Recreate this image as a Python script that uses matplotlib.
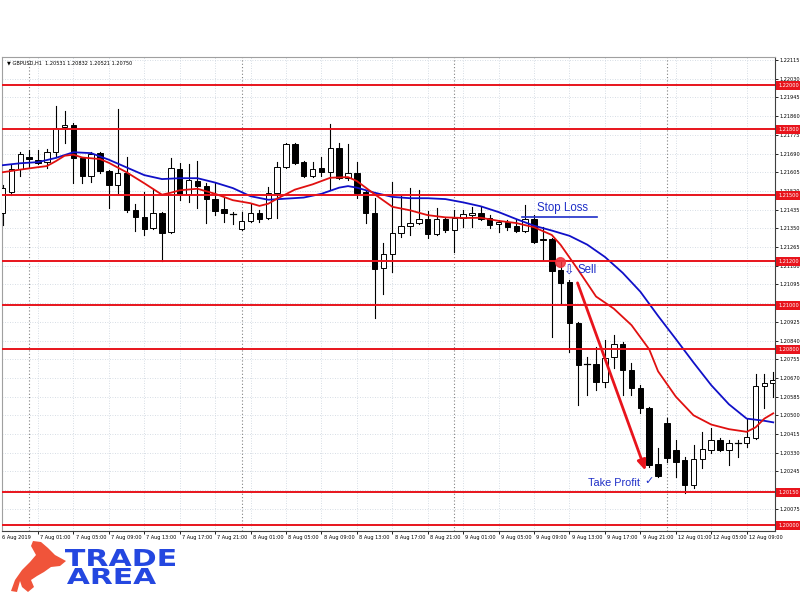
import matplotlib
matplotlib.use("Agg")
import matplotlib.pyplot as plt
from matplotlib.patches import Rectangle, Polygon, PathPatch
from matplotlib.textpath import TextPath
from matplotlib.font_manager import FontProperties
from matplotlib.transforms import blended_transform_factory, Affine2D

# bar index 0 = 7 Aug 01:00 (H1 bars, weekend skipped)
bar_idx = list(range(-4, 84))
opens = [1.21419, 1.21514, 1.21619, 1.21674, 1.21660, 1.21651, 1.21696, 1.21810, 1.21819, 1.21669,
         1.21587, 1.21692, 1.21610, 1.21546, 1.21601, 1.21432, 1.21401, 1.21351, 1.21419, 1.21332,
         1.21619, 1.21505, 1.21564, 1.21542, 1.21483, 1.21437, 1.21414, 1.21346, 1.21382, 1.21419,
         1.21396, 1.21510, 1.21628, 1.21733, 1.21651, 1.21587, 1.21624, 1.21605, 1.21715, 1.21578,
         1.21601, 1.21514, 1.21419, 1.21169, 1.21232, 1.21328, 1.21360, 1.21373, 1.21392, 1.21323,
         1.21392, 1.21341, 1.21396, 1.21410, 1.21419, 1.21396, 1.21369, 1.21378, 1.21360, 1.21337,
         1.21392, 1.21301, 1.21301, 1.21159, 1.21105, 1.20918, 1.20732, 1.20732, 1.20650, 1.20764,
         1.20823, 1.20704, 1.20623, 1.20532, 1.20277, 1.20463, 1.20340, 1.20295, 1.20181, 1.20300,
         1.20340, 1.20386, 1.20340, 1.20372, 1.20372, 1.20395, 1.20632, 1.20645]
highs = [1.21546, 1.21637, 1.21696, 1.21706, 1.21706, 1.21710, 1.21906, 1.21883, 1.21828, 1.21674,
         1.21696, 1.21696, 1.21615, 1.21892, 1.21674, 1.21460, 1.21514, 1.21528, 1.21423, 1.21669,
         1.21646, 1.21642, 1.21655, 1.21555, 1.21555, 1.21492, 1.21423, 1.21423, 1.21460, 1.21432,
         1.21537, 1.21651, 1.21737, 1.21737, 1.21655, 1.21651, 1.21674, 1.21824, 1.21737, 1.21733,
         1.21651, 1.21519, 1.21487, 1.21282, 1.21560, 1.21496, 1.21533, 1.21523, 1.21428, 1.21442,
         1.21396, 1.21432, 1.21432, 1.21446, 1.21446, 1.21410, 1.21387, 1.21387, 1.21387, 1.21455,
         1.21410, 1.21355, 1.21305, 1.21196, 1.21114, 1.20923, 1.20764, 1.20809, 1.20841, 1.20864,
         1.20832, 1.20736, 1.20636, 1.20536, 1.20350, 1.20486, 1.20386, 1.20309, 1.20363, 1.20422,
         1.20441, 1.20395, 1.20386, 1.20386, 1.20482, 1.20686, 1.20686, 1.20695]
lows = [1.21364, 1.21501, 1.21587, 1.21624, 1.21642, 1.21624, 1.21674, 1.21737, 1.21555, 1.21555,
        1.21560, 1.21601, 1.21442, 1.21510, 1.21423, 1.21337, 1.21319, 1.21346, 1.21200, 1.21328,
        1.21478, 1.21469, 1.21442, 1.21373, 1.21410, 1.21378, 1.21369, 1.21342, 1.21380, 1.21378,
        1.21392, 1.21396, 1.21624, 1.21642, 1.21583, 1.21583, 1.21587, 1.21528, 1.21574, 1.21569,
        1.21487, 1.21373, 1.20941, 1.21050, 1.21150, 1.21310, 1.21319, 1.21369, 1.21305, 1.21319,
        1.21332, 1.21241, 1.21355, 1.21355, 1.21387, 1.21351, 1.21332, 1.21341, 1.21332, 1.21332,
        1.21282, 1.21205, 1.20855, 1.21009, 1.20786, 1.20545, 1.20591, 1.20613, 1.20627, 1.20714,
        1.20591, 1.20591, 1.20509, 1.20263, 1.20218, 1.20286, 1.20218, 1.20145, 1.20168, 1.20259,
        1.20327, 1.20336, 1.20272, 1.20309, 1.20354, 1.20390, 1.20532, 1.20582]
closes = [1.21533, 1.21619, 1.21687, 1.21665, 1.21646, 1.21696, 1.21806, 1.21819, 1.21669, 1.21587,
          1.21687, 1.21610, 1.21546, 1.21601, 1.21432, 1.21401, 1.21346, 1.21419, 1.21328, 1.21624,
          1.21505, 1.21569, 1.21542, 1.21483, 1.21428, 1.21419, 1.21416, 1.21382, 1.21419, 1.21392,
          1.21510, 1.21628, 1.21733, 1.21646, 1.21587, 1.21619, 1.21605, 1.21715, 1.21578, 1.21601,
          1.21510, 1.21419, 1.21164, 1.21232, 1.21328, 1.21360, 1.21373, 1.21392, 1.21323, 1.21392,
          1.21341, 1.21396, 1.21414, 1.21419, 1.21392, 1.21364, 1.21378, 1.21355, 1.21337, 1.21392,
          1.21287, 1.21296, 1.21155, 1.21100, 1.20918, 1.20727, 1.20730, 1.20650, 1.20759, 1.20823,
          1.20704, 1.20623, 1.20532, 1.20272, 1.20222, 1.20304, 1.20286, 1.20181, 1.20300, 1.20345,
          1.20386, 1.20340, 1.20372, 1.20370, 1.20400, 1.20632, 1.20645, 1.20659]

# moving averages
slow_idx = [-4, -2, 0, 2, 4, 6, 8, 10, 12, 14, 16, 18, 20, 22, 24, 26, 28, 30, 32, 34, 35, 36, 38,
            40, 42, 44, 46, 48, 50, 52, 54, 56, 58, 60, 62, 64, 66, 68, 70, 72, 74, 76, 78, 80, 82, 83]
slow_ma = [1.21637, 1.21646, 1.21651, 1.21670, 1.21696, 1.21692, 1.21662, 1.21627, 1.21592, 1.21574,
           1.21578, 1.21578, 1.21558, 1.21533, 1.21496, 1.21480, 1.21485, 1.21490, 1.21507, 1.21535,
           1.21542, 1.21535, 1.21512, 1.21493, 1.21487, 1.21487, 1.21483, 1.21468, 1.21450, 1.21424,
           1.21392, 1.21362, 1.21340, 1.21316, 1.21276, 1.21220, 1.21148, 1.21062, 1.20952, 1.20847,
           1.20740, 1.20637, 1.20550, 1.20485, 1.20475, 1.20468]
fast_idx = [-4, -2, 0, 1, 2, 3, 4, 5, 7, 8, 10, 12, 14, 15, 16, 18, 20, 22, 24, 25, 26, 27, 29, 31,
            33, 35, 36, 38, 40, 42, 44, 46, 48, 50, 52, 54, 56, 58, 59, 61, 62, 63, 65, 67, 69, 70,
            72, 74, 76, 78, 80, 81, 82, 83]
fast_ma = [1.21605, 1.21617, 1.21628, 1.21633, 1.21655, 1.21680, 1.21685, 1.21672, 1.21665, 1.21648,
           1.21605, 1.21555, 1.21503, 1.21512, 1.21523, 1.21530, 1.21507, 1.21478, 1.21464, 1.21452,
           1.21462, 1.21485, 1.21526, 1.21550, 1.21580, 1.21583, 1.21565, 1.21505, 1.21448, 1.21432,
           1.21410, 1.21400, 1.21397, 1.21398, 1.21384, 1.21374, 1.21355, 1.21320, 1.21275, 1.21160,
           1.21100, 1.21040, 1.20985, 1.20910, 1.20800, 1.20700, 1.20585, 1.20500, 1.20458, 1.20437,
           1.20425, 1.20445, 1.20485, 1.20509]

levels = [1.22000, 1.21800, 1.21500, 1.21200, 1.21000, 1.20800, 1.20150, 1.20000]
level_labels = ["1.22000", "1.21800", "1.21500", "1.21200", "1.21000", "1.20800", "1.20150", "1.20000"]

# grid / axis prices (the two hidden under the level boxes keep a grid line but no label)
price_ticks = [1.22115, 1.22030, 1.21945, 1.21860, 1.21775, 1.21690, 1.21605, 1.21520, 1.21435,
               1.21350, 1.21265, 1.21180, 1.21095, 1.21010, 1.20925, 1.20840, 1.20755, 1.20670,
               1.20585, 1.20500, 1.20415, 1.20330, 1.20245, 1.20160, 1.20075]
hidden_ticks = [1.21010, 1.20160]

time_idx = list(range(0, 84, 4))
time_labels = ["7 Aug 01:00", "7 Aug 05:00", "7 Aug 09:00", "7 Aug 13:00", "7 Aug 17:00",
               "7 Aug 21:00", "8 Aug 01:00", "8 Aug 05:00", "8 Aug 09:00", "8 Aug 13:00",
               "8 Aug 17:00", "8 Aug 21:00", "9 Aug 01:00", "9 Aug 05:00", "9 Aug 09:00",
               "9 Aug 13:00", "9 Aug 17:00", "9 Aug 21:00", "12 Aug 01:00", "12 Aug 05:00",
               "12 Aug 09:00"]
day_breaks = [-1, 23, 47, 71]

# trade annotations
stop_loss = 1.21401
entry_bar, entry_price = 58.9, 1.21196
tp_from = (60.8, 1.21114)
tp_to = (68.7, 1.20236)

BLUE = "#1f2fc8"
RED = "#e8141c"

fig = plt.figure(figsize=(8, 6), dpi=100)
ax = fig.add_axes([0.0025, 0.115, 0.96625, 0.79])
ax.set_xlim(-4.06, 83.2)
ax.set_ylim(1.19974, 1.22129)

# grid
for t in time_idx:
    ax.axvline(t, color="#c9d2dc", lw=0.6, ls=(0, (1, 2)), zorder=0)
for p in price_ticks:
    ax.axhline(p, color="#c9d2dc", lw=0.6, ls=(0, (1, 2)), zorder=0)
for d in day_breaks:
    ax.axvline(d, color="#808080", lw=0.8, ls=(0, (1, 2)), zorder=0.5)

# candles
w = 0.62
for i, o, h, l, c in zip(bar_idx, opens, highs, lows, closes):
    ax.plot([i, i], [l, h], color="black", lw=0.8, zorder=2)
    lo, hi = min(o, c), max(o, c)
    if hi - lo < 0.00003:
        ax.plot([i - w / 2, i + w / 2], [o, o], color="black", lw=0.9, zorder=3)
    else:
        face = "white" if c > o else "black"
        ax.add_patch(Rectangle((i - w / 2, lo), w, hi - lo, facecolor=face,
                               edgecolor="black", lw=0.7, zorder=3))

# moving averages
ax.plot(slow_idx, slow_ma, color="#1010c8", lw=1.3, zorder=4)
ax.plot(fast_idx, fast_ma, color="#e01010", lw=1.3, zorder=4)

# horizontal levels
for lv in levels:
    ax.axhline(lv, color=RED, lw=1.4, zorder=5)

# stop loss / sell / take profit
ax.plot([54.6, 63.1], [stop_loss, stop_loss], color=BLUE, lw=1.2, zorder=6)
ax.text(56.3, stop_loss + 0.00012, "Stop Loss", color=BLUE, fontsize=8.3,
        family="Liberation Sans", va="bottom", ha="left", zorder=7)
ax.plot(entry_bar, entry_price, "o", color="#f0303a", ms=7, alpha=0.85, zorder=7)
ax.text(59.4, 1.21155, "\u21e9", color=BLUE, fontsize=9, family="DejaVu Sans",
        va="center", ha="left", zorder=7)
ax.text(60.9, 1.21160, "Sell", color=BLUE, fontsize=8.3, family="Liberation Sans",
        va="center", ha="left", zorder=7)
ax.annotate("", xy=tp_to, xytext=tp_from,
            arrowprops=dict(arrowstyle="-|>,head_length=0.6,head_width=0.25",
                            color=RED, lw=2.0), zorder=7)
ax.text(62.1, 1.20190, "Take Profit", color=BLUE, fontsize=7.8,
        family="Liberation Sans", va="center", ha="left", zorder=7)
ax.text(68.5, 1.20200, "\u2713", color=BLUE, fontsize=8, family="DejaVu Sans",
        va="center", ha="left", zorder=7)

# axes styling
for s in ["top", "left"]:
    ax.spines[s].set_color("#a0a0a0")
    ax.spines[s].set_linewidth(0.8)
ax.spines["right"].set_color("#404040")
ax.spines["bottom"].set_color("#404040")
ax.yaxis.tick_right()
ax.set_yticks(price_ticks)
ax.set_yticklabels(["" if p in hidden_ticks else f"{p:.5f}" for p in price_ticks], fontsize=3.6)
ax.tick_params(axis="y", length=2, width=0.6, pad=1.5)
ax.set_xticks(time_idx)
ax.set_xticklabels([])
ax.tick_params(axis="x", length=2, width=0.6)
for t, lab in zip(time_idx, time_labels):
    ax.text(t + 0.25, -0.008, lab, transform=blended_transform_factory(ax.transData, ax.transAxes),
            fontsize=3.6, ha="left", va="top", clip_on=False)
ax.text(0.0, -0.008, "6 Aug 2019", transform=ax.transAxes, fontsize=3.6, ha="left", va="top")

# level price boxes
trans = blended_transform_factory(ax.transAxes, ax.transData)
for lv, lab in zip(levels, level_labels):
    ax.text(1.004, lv, lab, transform=trans, fontsize=3.6, color="white", ha="left", va="center",
            bbox=dict(boxstyle="square,pad=0.45", fc=RED, ec="none"), clip_on=False, zorder=10)

# header
ax.text(0.006, 0.992, "\u25bc GBPUSD,H1  1.20531 1.20832 1.20521 1.20750", transform=ax.transAxes,
        fontsize=3.6, ha="left", va="top", family="DejaVu Sans")


# logo
def px(x, y):
    return (x / 800, 1 - y / 600)


bull = [(11, 591), (15, 580), (22, 570), (30, 562), (36, 555), (31, 546), (33, 541), (41, 542),
        (48, 548), (55, 555), (66, 561), (60, 566), (51, 567), (44, 572), (37, 576), (31, 580),
        (34, 587), (28, 592), (22, 587), (20, 581), (17, 592)]
fig.patches.append(Polygon([px(*p) for p in bull], closed=True, transform=fig.transFigure,
                           facecolor="#f0543a", edgecolor="none"))

logo_font = FontProperties(family="DejaVu Sans", weight="bold")


def logo_word(word, x0, x1, ytop, ybot):
    path = TextPath((0, 0), word, size=1, prop=logo_font)
    ext = path.get_extents()
    sx = (x1 - x0) / ext.width
    sy = (ybot - ytop) / ext.height
    tr = (Affine2D().translate(-ext.x0, -ext.y0).scale(sx / 800, sy / 600)
          .translate(x0 / 800, 1 - ybot / 600) + fig.transFigure)
    fig.patches.append(PathPatch(path, transform=tr, facecolor="#2447e0", edgecolor="none"))


logo_word("TRADE", 65, 175, 549, 566)
logo_word("AREA", 67, 156, 568, 584)

fig.savefig("out.png", dpi=100, facecolor="white")
